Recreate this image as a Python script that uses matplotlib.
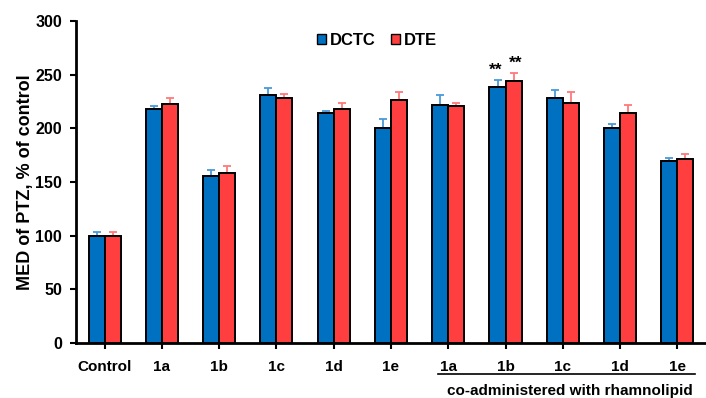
import numpy as np
import matplotlib.pyplot as plt
from matplotlib.patches import Patch

plt.rcParams['font.family'] = ['Liberation Sans', 'DejaVu Sans']
plt.rcParams['font.weight'] = 'bold'

# MED of PTZ relative to control (%)
groups = ['Control', '1a', '1b', '1c', '1d', '1e', '1a', '1b', '1c', '1d', '1e']
dctc = [100, 218, 156, 231, 214, 200.5, 222, 238.5, 228, 200.3, 169.3]
dctc_err = [3, 3, 5, 7, 2, 8, 9, 7, 8, 3.5, 3]
dte = [100, 223, 158.7, 228, 218.3, 226.4, 220.5, 244.4, 223.6, 214.6, 171.4]
dte_err = [3, 5, 6, 4, 5, 7, 3.5, 7, 10, 7, 5]
sig_marks = {7: '**'}

blue = '#0070C0'
red = '#FF3F3F'
blue_err = '#4a9ad8'
red_err = '#ff7a7a'

fig = plt.figure(figsize=(7.06, 3.98), dpi=100)
ax = fig.add_axes([0.1076, 0.1382, 0.8924, 0.809])

x = np.arange(len(groups))
w = 0.28
ax.bar(x - w / 2, dctc, w, color=blue, edgecolor='black', linewidth=1.4, zorder=3)
ax.bar(x + w / 2, dte, w, color=red, edgecolor='black', linewidth=1.4, zorder=3)

# upper error bars only
ax.errorbar(x - w / 2, dctc, yerr=[np.zeros(len(dctc)), dctc_err], fmt='none',
            ecolor=blue_err, elinewidth=1.3, capsize=2.8, capthick=1.3, zorder=2)
ax.errorbar(x + w / 2, dte, yerr=[np.zeros(len(dte)), dte_err], fmt='none',
            ecolor=red_err, elinewidth=1.3, capsize=2.8, capthick=1.3, zorder=2)

for i, mark in sig_marks.items():
    ax.text(x[i] - w / 2 - 0.03, dctc[i] + dctc_err[i] + 2, mark, ha='center', va='bottom',
            fontsize=12.5, fontweight='bold')
    ax.text(x[i] + w / 2 + 0.03, dte[i] + dte_err[i] + 2, mark, ha='center', va='bottom',
            fontsize=12.5, fontweight='bold')

ax.set_xlim(-0.5, len(groups) - 0.5)
ax.set_ylim(0, 300)
ax.set_yticks(np.arange(0, 301, 50))
ax.set_xticks(x)
ax.set_xticklabels(groups, fontsize=11, fontweight='bold')
ax.tick_params(axis='y', labelsize=11.5, length=4, width=1.5, direction='out', pad=6)
ax.tick_params(axis='x', length=4, width=1.5, direction='out', pad=8)
for lbl in ax.get_yticklabels():
    lbl.set_fontweight('bold')

ax.spines['top'].set_visible(False)
ax.spines['right'].set_visible(False)
ax.spines['left'].set_linewidth(2)
ax.spines['bottom'].set_linewidth(2)

ax.set_ylabel('MED of PTZ, % of control', fontsize=13, fontweight='bold', labelpad=1)

# bracket under the rhamnolipid groups
line_y = -0.096
ax.plot([5.82, 10.31], [line_y, line_y], transform=ax.get_xaxis_transform(),
        color='black', linewidth=1.2, clip_on=False)
ax.text(8.13, -0.148, 'co-administered with rhamnolipid', transform=ax.get_xaxis_transform(),
        ha='center', va='center', fontsize=11, fontweight='bold')

handles = [Patch(facecolor=blue, edgecolor='black', label='DCTC'),
           Patch(facecolor=red, edgecolor='black', label='DTE')]
ax.legend(handles=handles, loc='upper center', bbox_to_anchor=(0.478, 1.01), ncol=2,
          frameon=False, handlelength=0.55, handleheight=0.55,
          handletextpad=0.25, columnspacing=0.9, prop={'weight': 'bold', 'size': 12})

fig.savefig('out.png', dpi=100)
